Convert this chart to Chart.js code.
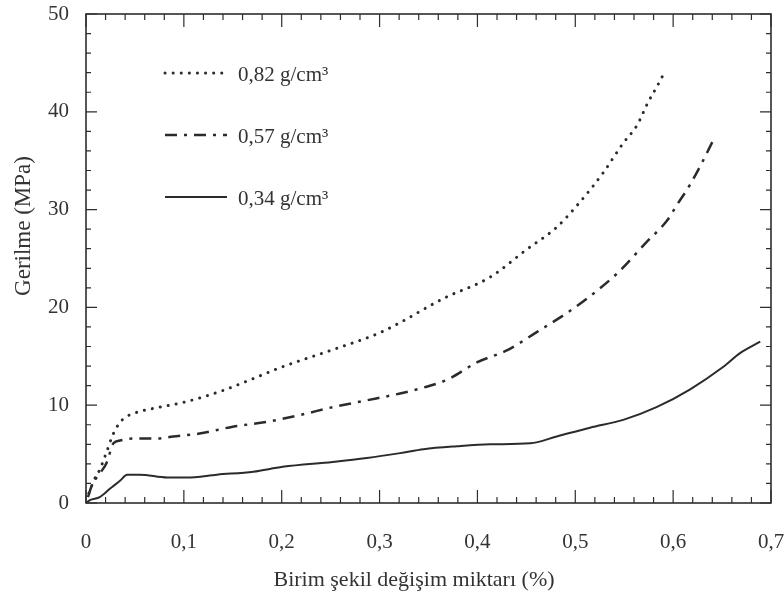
<!DOCTYPE html>
<html>
<head>
<meta charset="utf-8">
<script src="https://cdn.jsdelivr.net/npm/chart.js@4.4.1/dist/chart.umd.min.js"></script>
<style>
  body { margin: 0; background: #fff; }
</style>
</head>
<body>
<canvas id="myChart" width="784" height="603"></canvas>
<script>
// strain (%) and stress (MPa)
const strain082 = [0.003, 0.008, 0.014, 0.021, 0.028, 0.037, 0.05, 0.07, 0.1, 0.137, 0.168, 0.2, 0.25, 0.3, 0.32, 0.365, 0.413, 0.45, 0.481, 0.505, 0.528, 0.549, 0.563, 0.574, 0.583, 0.591];
const stress082 = [1.0, 2.3, 3.4, 5.2, 7.1, 8.5, 9.2, 9.7, 10.3, 11.4, 12.6, 13.9, 15.6, 17.4, 18.4, 20.9, 23.1, 25.9, 28.2, 30.8, 33.7, 36.8, 38.6, 40.9, 42.5, 44.0];

const strain057 = [0.002, 0.006, 0.014, 0.021, 0.028, 0.035, 0.048, 0.072, 0.089, 0.116, 0.15, 0.185, 0.219, 0.252, 0.287, 0.321, 0.345, 0.369, 0.4, 0.43, 0.461, 0.491, 0.512, 0.543, 0.573, 0.594, 0.604, 0.617, 0.63, 0.641];
const stress057 = [0.6, 1.8, 3.0, 4.1, 6.1, 6.4, 6.6, 6.6, 6.8, 7.1, 7.8, 8.3, 9.0, 9.8, 10.5, 11.2, 11.8, 12.6, 14.4, 15.6, 17.5, 19.4, 20.9, 23.5, 26.7, 28.9, 30.5, 32.5, 34.9, 37.1];

const strain034 = [0, 0.004, 0.014, 0.025, 0.035, 0.042, 0.055, 0.083, 0.103, 0.134, 0.171, 0.201, 0.252, 0.287, 0.321, 0.345, 0.379, 0.413, 0.454, 0.481, 0.515, 0.549, 0.583, 0.617, 0.651, 0.668, 0.689];
const stress034 = [0, 0.3, 0.6, 1.5, 2.3, 2.9, 2.9, 2.6, 2.6, 2.9, 3.2, 3.7, 4.2, 4.6, 5.1, 5.5, 5.8, 6.0, 6.1, 6.8, 7.7, 8.5, 9.8, 11.6, 13.9, 15.3, 16.5];

const seriesNames = ['0,82 g/cm³', '0,57 g/cm³', '0,34 g/cm³'];
const xTickValues = [0, 0.1, 0.2, 0.3, 0.4, 0.5, 0.6, 0.7];
const xTickLabels = ['0', '0,1', '0,2', '0,3', '0,4', '0,5', '0,6', '0,7'];
const yTickValues = [0, 10, 20, 30, 40, 50];
const yTickLabels = ['0', '10', '20', '30', '40', '50'];

const xTitle = 'Birim şekil değişim miktarı (%)';
const yTitle = 'Gerilme (MPa)';

const serif = "'Liberation Serif', 'Times New Roman', serif";
const ink = '#2b2b2b';

function toPoints(xs, ys) {
  return xs.map((v, i) => ({ x: v, y: ys[i] }));
}

function noPadding(s) {
  s.paddingTop = 0; s.paddingBottom = 0; s.paddingLeft = 0; s.paddingRight = 0;
}

const lineStyles = [
  { borderDash: [0.1, 8], borderWidth: 3, borderCapStyle: 'round' },
  { borderDash: [12, 7, 3, 7], borderWidth: 2.5, borderCapStyle: 'butt' },
  { borderDash: [], borderWidth: 2, borderCapStyle: 'butt' }
];

// frame, inward ticks, legend and axis titles
const decorations = {
  id: 'decorations',
  afterDraw(chart) {
    const ctx = chart.ctx;
    const xs = chart.scales.x;
    const ys = chart.scales.y;
    // plot box taken from the scales themselves
    const left = xs.getPixelForValue(0);
    const right = xs.getPixelForValue(0.7);
    const top = ys.getPixelForValue(50);
    const bottom = ys.getPixelForValue(0);
    ctx.save();
    ctx.strokeStyle = '#2e2e2e';
    ctx.lineWidth = 1.6;
    ctx.strokeRect(left, top, right - left, bottom - top);

    ctx.lineWidth = 1.2;
    ctx.beginPath();
    for (let i = 0; i <= 35; i++) {
      const px = xs.getPixelForValue(i * 0.02);
      const len = i % 5 === 0 ? 13 : 6;
      ctx.moveTo(px, bottom); ctx.lineTo(px, bottom - len);
      ctx.moveTo(px, top); ctx.lineTo(px, top + len);
    }
    for (let i = 0; i <= 25; i++) {
      const py = ys.getPixelForValue(i * 2);
      const len = i % 5 === 0 ? 11 : 5;
      ctx.moveTo(left, py); ctx.lineTo(left + len, py);
      ctx.moveTo(right, py); ctx.lineTo(right - len, py);
    }
    ctx.stroke();

    // legend inside the plot
    const legX = left + 79;
    const legTop = top + 59;
    chart.data.datasets.forEach((ds, i) => {
      const ly = legTop + i * 62;
      ctx.strokeStyle = ink;
      ctx.lineWidth = ds.borderWidth;
      ctx.lineCap = ds.borderCapStyle;
      ctx.setLineDash(ds.borderDash);
      ctx.beginPath();
      ctx.moveTo(legX, ly);
      ctx.lineTo(legX + 62, ly);
      ctx.stroke();
      ctx.setLineDash([]);
      ctx.fillStyle = '#333';
      ctx.font = '21px ' + serif;
      ctx.textAlign = 'left';
      ctx.textBaseline = 'middle';
      ctx.fillText(ds.label, legX + 73, ly + 2);
    });

    // axis titles
    ctx.fillStyle = '#333';
    ctx.font = '22px ' + serif;
    ctx.textAlign = 'center';
    ctx.textBaseline = 'middle';
    ctx.fillText(xTitle, 414, 580);
    ctx.translate(24, 226);
    ctx.rotate(-Math.PI / 2);
    ctx.font = '23px ' + serif;
    ctx.fillText(yTitle, 0, 0);
    ctx.restore();
  }
};

const myChart = document.getElementById('myChart');

let lineChart = new Chart(myChart, {
  type: 'scatter',
  data: {
    datasets: [
      Object.assign({ label: seriesNames[0], data: toPoints(strain082, stress082) }, lineStyles[0]),
      Object.assign({ label: seriesNames[1], data: toPoints(strain057, stress057) }, lineStyles[1]),
      Object.assign({ label: seriesNames[2], data: toPoints(strain034, stress034) }, lineStyles[2])
    ].map(ds => Object.assign(ds, {
      showLine: true,
      pointRadius: 0,
      borderColor: ink,
      cubicInterpolationMode: 'monotone',
      fill: false
    }))
  },
  options: {
    responsive: false,
    animation: false,
    layout: { padding: { left: 0, top: 14, right: 13, bottom: 0 } },
    plugins: {
      legend: { display: false },
      tooltip: { enabled: false }
    },
    scales: {
      x: {
        type: 'linear',
        min: 0,
        max: 0.7,
        afterFit: s => { s.height = 100; noPadding(s); },
        afterBuildTicks: s => { s.ticks = xTickValues.map(v => ({ value: v })); },
        grid: { display: false, drawTicks: false },
        border: { display: false },
        ticks: {
          padding: 27,
          color: '#333',
          font: { family: serif, size: 21 },
          callback: (v) => xTickLabels[xTickValues.findIndex(t => Math.abs(t - v) < 1e-6)]
        }
      },
      y: {
        type: 'linear',
        min: 0,
        max: 50,
        afterFit: s => { s.width = 86; noPadding(s); },
        afterBuildTicks: s => { s.ticks = yTickValues.map(v => ({ value: v })); },
        grid: { display: false, drawTicks: false },
        border: { display: false },
        ticks: {
          padding: 17,
          color: '#333',
          font: { family: serif, size: 21 },
          callback: (v) => yTickLabels[yTickValues.indexOf(v)]
        }
      }
    }
  },
  plugins: [decorations]
});
</script>
</body>
</html>
